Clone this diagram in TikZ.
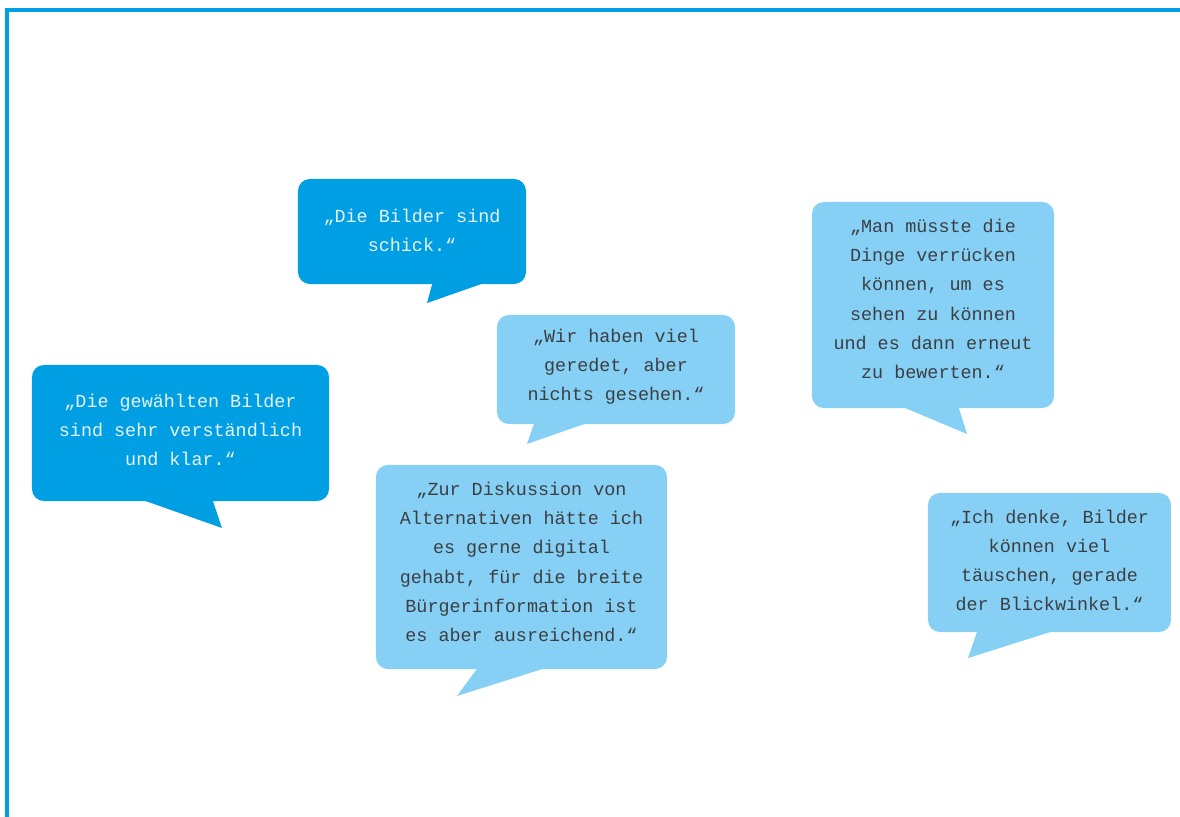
\documentclass[tikz,border=0pt]{standalone}
\usepackage{fontspec}
\setmonofont{Liberation Mono}
\usepackage{xcolor}
\usepackage{tikz}
\usetikzlibrary{positioning}
\definecolor{darkblue}{HTML}{009FE3}
\definecolor{lightblue}{HTML}{86D0F5}
\definecolor{quotegray}{HTML}{3C3F42}
\definecolor{quotewhite}{HTML}{E6F3FB}
\newcommand{\quotefont}{\ttfamily\fontsize{13.1}{20.8}\selectfont}

\begin{document}
\begin{tikzpicture}[
x=0.025cm, y=-0.025cm,
Frame/.style={draw=darkblue,line width=0.1cm,line join=miter},
DarkBubble/.style={fill=darkblue,rounded corners=0.3cm,inner sep=0pt},
LightBubble/.style={fill=lightblue,rounded corners=0.3cm,inner sep=0pt},
DarkQuote/.style={text=quotewhite,align=center,font=\quotefont},
LightQuote/.style={text=quotegray,align=center,font=\quotefont},
DarkTail/.style={fill=darkblue},
LightTail/.style={fill=lightblue}
]
\useasboundingbox (0,0) rectangle (1180,817);

% frame
\draw[Frame] (7,817)--(7,10)--(1180,10);

% dark bubbles
\node[DarkBubble, minimum width=5.7cm, minimum height=2.625cm,
label={[DarkQuote,yshift=0.7pt]center:{„Die Bilder sind\\schick.“}}] (schick) at (412,231.5) {};
\fill[DarkTail] (433,281)--(427,303)--(490,281)--cycle;

\node[DarkBubble, minimum width=7.425cm, minimum height=3.4cm,
label={[DarkQuote,yshift=2.1pt]center:{„Die gewählten Bilder\\sind sehr verständlich\\und klar.“}}] (klar) at (180.5,433) {};
\fill[DarkTail] (137,498)--(222,528)--(212,498)--cycle;

% light bubbles
\node[LightBubble, minimum width=5.95cm, minimum height=2.725cm,
label={[LightQuote,yshift=2.1pt]center:{„Wir haben viel\\geredet, aber\\nichts gesehen.“}}] (geredet) at (616,369.5) {};
\fill[LightTail] (535,421)--(527,444)--(593,421)--cycle;

\node[LightBubble, minimum width=7.275cm, minimum height=5.1cm,
label={[LightQuote,yshift=3.6pt]center:{„Zur Diskussion von\\Alternativen hätte ich\\es gerne digital\\gehabt, für die breite\\Bürgerinformation ist\\es aber ausreichend.“}}] (digital) at (521.5,567) {};
\fill[LightTail] (479,666)--(457,696)--(552,666)--cycle;

\node[LightBubble, minimum width=6.05cm, minimum height=5.15cm,
label={[LightQuote,yshift=4.3pt]center:{„Man müsste die\\Dinge verrücken\\können, um es\\sehen zu können\\und es dann erneut\\zu bewerten.“}}] (verruecken) at (933,305) {};
\fill[LightTail] (898,405)--(967,434)--(958,405)--cycle;

\node[LightBubble, minimum width=6.075cm, minimum height=3.475cm,
label={[LightQuote,yshift=1.4pt]center:{„Ich denke, Bilder\\können viel\\täuschen, gerade\\der Blickwinkel.“}}] (blickwinkel) at (1049.5,562.5) {};
\fill[LightTail] (978,629)--(968,658)--(1060,629)--cycle;

\end{tikzpicture}
\end{document}
